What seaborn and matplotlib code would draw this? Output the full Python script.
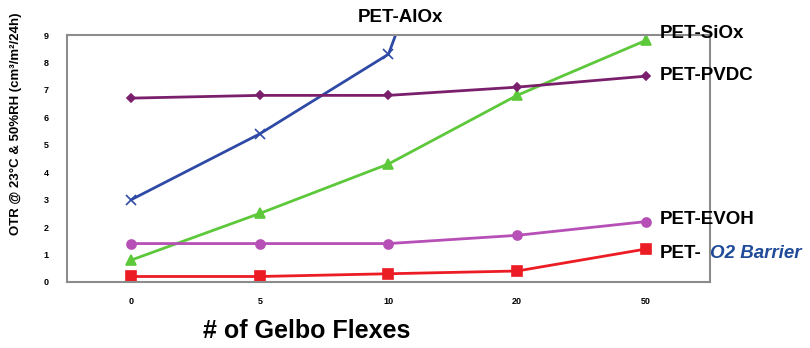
import pandas as pd
import matplotlib.pyplot as plt
import seaborn as sns

flexes = ["0", "5", "10", "20", "50"]
alox = [3.0, 5.4, 8.3, 21.0, 40.0]
sio = [0.8, 2.5, 4.3, 6.8, 8.8]
pvdc = [6.7, 6.8, 6.8, 7.1, 7.5]
evoh = [1.4, 1.4, 1.4, 1.7, 2.2]
o2 = [0.2, 0.2, 0.3, 0.4, 1.2]

series = {"PET-AlOx": alox, "PET-SiOx": sio, "PET-PVDC": pvdc,
          "PET-EVOH": evoh, "PET-O2": o2}
colors = {"PET-AlOx": "#2f4aa6", "PET-SiOx": "#5cc83a", "PET-PVDC": "#7a1f6c",
          "PET-EVOH": "#b64fb6", "PET-O2": "#ec1c24"}
markers = {"PET-AlOx": "x", "PET-SiOx": "^", "PET-PVDC": "D",
           "PET-EVOH": "o", "PET-O2": "s"}
sizes = {"PET-AlOx": 7, "PET-SiOx": 7, "PET-PVDC": 4.5, "PET-EVOH": 6.5, "PET-O2": 7}

rows = []
for name, vals in series.items():
    for f, v in zip(flexes, vals):
        rows.append({"flex": f, "otr": v, "film": name})
df = pd.DataFrame(rows)

sns.set_style("white")
plt.rcParams["font.family"] = ["Liberation Sans", "DejaVu Sans"]
plt.rcParams["text.color"] = "black"

fig = plt.figure(figsize=(8.1, 3.48), dpi=100)
ax = fig.add_axes([0.0827, 0.1897, 0.7938, 0.7097])

for name in series:
    sub = df[df["film"] == name]
    sns.lineplot(data=sub, x="flex", y="otr", color=colors[name],
                 marker=markers[name], markersize=sizes[name],
                 markeredgecolor=colors[name], markeredgewidth=1.2,
                 linewidth=2, ax=ax, sort=False)

ax.set_ylim(0, 9)
ax.set_xlim(-0.5, 4.5)
ax.set_yticks(range(10))
ax.tick_params(axis="both", length=0, labelsize=6.5, labelcolor="black")
for lab in ax.get_xticklabels() + ax.get_yticklabels():
    lab.set_fontweight("bold")
ax.tick_params(axis="y", pad=13)
ax.tick_params(axis="x", pad=11)
ax.set_xlabel("")
ax.set_ylabel("")
for sp in ax.spines.values():
    sp.set_color("#8c8c8c")
    sp.set_linewidth(1.5)

fig.text(307 / 810, 1 - 331 / 348, "# of Gelbo Flexes", fontsize=18,
         fontweight="bold", ha="center", va="center")
fig.text(16 / 810, 1 - 124 / 348, "OTR @ 23°C & 50%RH (cm³/m²/24h)",
         fontsize=9.5, fontweight="bold", rotation=90, ha="center", va="center")

lab_kw = dict(fontsize=13.5, fontweight="bold", va="center", ha="left")
fig.text(400 / 810, 1 - 18 / 348, "PET-AlOx", ha="center", va="center",
         fontsize=13.5, fontweight="bold")
fig.text(660 / 810, 1 - 34 / 348, "PET-SiOx", **lab_kw)
fig.text(660 / 810, 1 - 76 / 348, "PET-PVDC", **lab_kw)
fig.text(660 / 810, 1 - 220 / 348, "PET-EVOH", **lab_kw)
fig.text(660 / 810, 1 - 253 / 348, "PET-", **lab_kw)
fig.text(710 / 810, 1 - 253 / 348, "O2 Barrier", fontsize=13.5, fontweight="bold",
         style="italic", color="#1f4b99", va="center", ha="left")

fig.savefig("out.png", dpi=100, facecolor="white")
